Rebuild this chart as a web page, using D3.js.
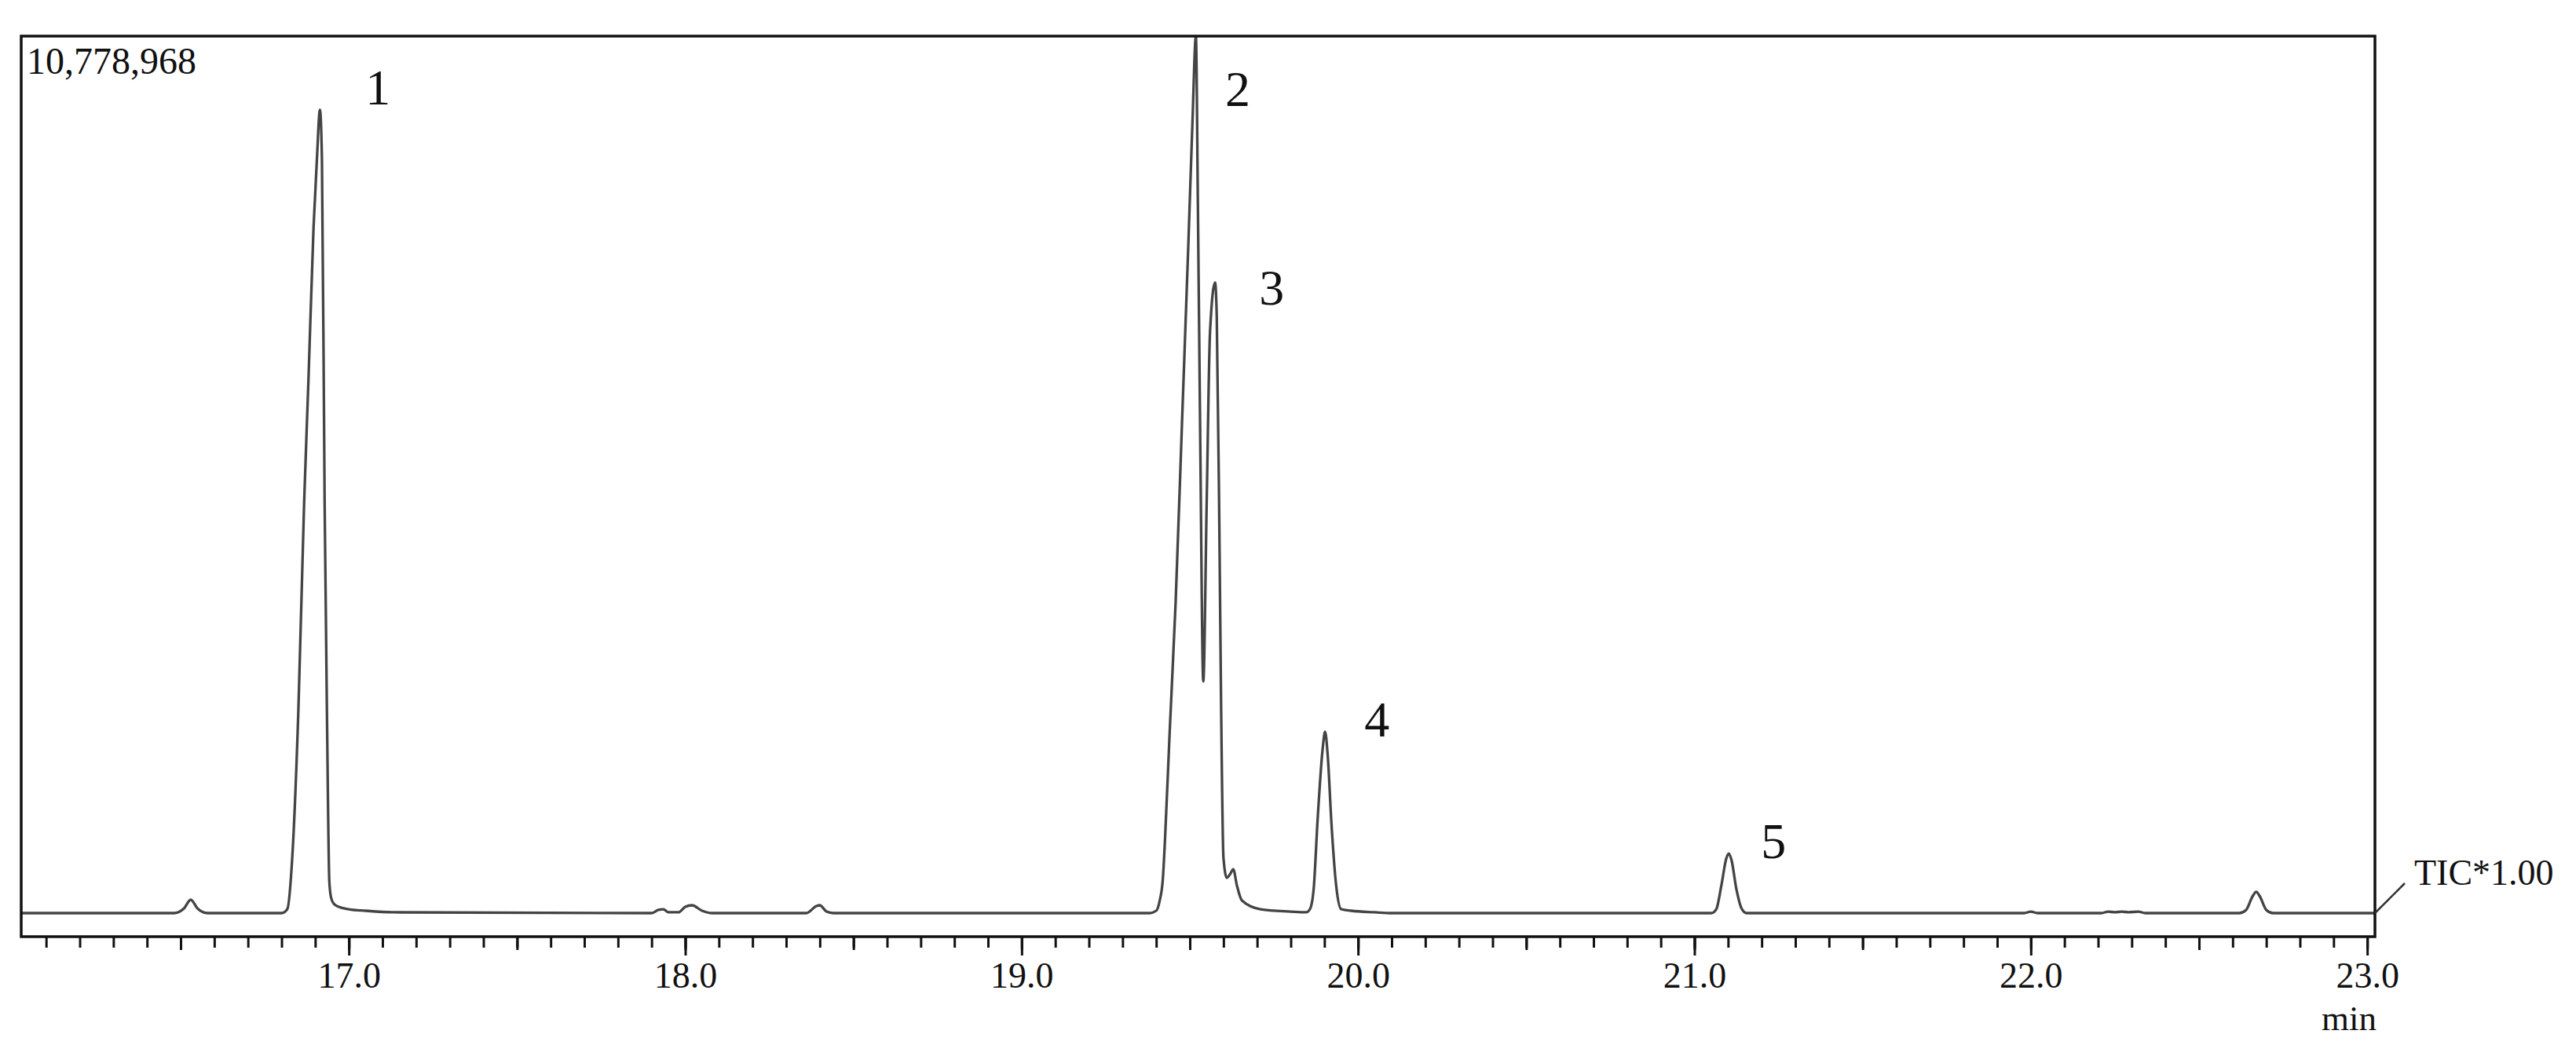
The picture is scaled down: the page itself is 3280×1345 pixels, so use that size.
<!DOCTYPE html>
<html>
<head>
<meta charset="utf-8">
<script src="https://cdn.jsdelivr.net/npm/d3@7"></script>
<style>
body { margin: 0; background: #fff; }
svg text { font-family: "Liberation Serif", "Times New Roman", serif; fill: #111; }
</style>
</head>
<body>
<script>
// retention time (min) and TIC intensity
var rt = [16.026, 16.48, 16.51, 16.53, 16.55, 16.58, 16.80, 16.817, 16.832, 16.85,
    16.867, 16.88, 16.895, 16.905, 16.914, 16.92, 16.928, 16.935, 16.942, 16.947,
    16.955, 16.97, 17.00, 17.05, 17.13, 17.90, 17.92, 17.935, 17.95, 17.98,
    18.00, 18.02, 18.05, 18.08, 18.36, 18.39, 18.40, 18.42, 18.44, 19.38,
    19.40, 19.41, 19.42, 19.426, 19.44, 19.458, 19.477, 19.496, 19.508, 19.518,
    19.524, 19.531, 19.540, 19.550, 19.560, 19.575, 19.580, 19.588, 19.593, 19.600,
    19.610, 19.620, 19.629, 19.640, 19.655, 19.71, 19.80, 19.846, 19.857, 19.868,
    19.88, 19.895, 19.902, 19.91, 19.921, 19.935, 19.95, 19.98, 20.05, 20.10,
    21.05, 21.065, 21.08, 21.095, 21.102, 21.11, 21.125, 21.14, 21.155, 21.98,
    22.00, 22.02, 22.21, 22.23, 22.25, 22.27, 22.29, 22.32, 22.34, 22.62,
    22.64, 22.66, 22.67, 22.68, 22.70, 22.72, 23.023];

var tic = [0, 0, 58000, 164000, 58000, 0, 0, 48000, 700000, 2500000,
    5037000, 6562000, 8424000, 9264000, 9872000, 9264000, 5037000, 2413000, 386000, 193000,
    116000, 77000, 48000, 29000, 10000, 0, 39000, 48000, 10000, 10000,
    77000, 96500, 29000, 0, 0, 87000, 96500, 19000, 0, 0,
    29000, 145000, 434000, 888000, 2220000, 3841000, 6060000, 8270000, 9747000, 10778968,
    8685000, 5790000, 2847000, 5018000, 7141000, 7749000, 7334000, 4632000, 2538000, 676000,
    434000, 480000, 540000, 338000, 154000, 48000, 19000, 10000, 48000, 290000,
    1160000, 2027000, 2229000, 1930000, 1100000, 338000, 48000, 29000, 10000, 0,
    0, 48000, 338000, 676000, 733000, 656000, 290000, 58000, 0, 0,
    19000, 0, 0, 19000, 10000, 19000, 10000, 19000, 0, 0,
    39000, 212000, 261000, 212000, 39000, 0, 0];

var maxTic = 10778968;

var majorTicks = [17, 18, 19, 20, 21, 22, 23];
var tickLabels = ["17.0", "18.0", "19.0", "20.0", "21.0", "22.0", "23.0"];

// peak numbers and where their labels sit (in data units)
var peakNames = ["1", "2", "3", "4", "5"];
var peakLabelRt = [17.049, 19.605, 19.706, 20.019, 21.198];
var peakLabelTic = [9940000, 9920000, 7479000, 2171000, 675500];

var W = 3280, H = 1345;
var plotL = 27, plotR = 3024, plotT = 46, plotB = 1193, baseY = 1163;

var svg = d3.select("body").append("svg")
    .attr("width", W)
    .attr("height", H);

var x = d3.scaleLinear().domain([16.026, 23.023]).range([plotL, plotR]);
var y = d3.scaleLinear().domain([0, maxTic]).range([baseY, plotT]);

// tick marks under the frame: 0.1, 0.5 and 1.0 min
function tickRow(values, size, labels) {
    var ax = d3.axisBottom(x).tickValues(values).tickSize(size).tickPadding(8)
        .tickFormat(labels ? function(d, i) { return labels[i]; } : "");
    var g = svg.append("g")
        .attr("transform", "translate(0," + plotB + ")")
        .call(ax);
    g.select(".domain").remove();
    g.selectAll(".tick line").attr("stroke", "#111").attr("stroke-width", 3);
    g.selectAll(".tick text")
        .attr("font-size", 46)
        .attr("font-family", "Liberation Serif, Times New Roman, serif")
        .attr("fill", "#111");
    return g;
}
tickRow(x.ticks(70), 14);
tickRow(x.ticks(14), 17);
tickRow(majorTicks, 24, tickLabels);

// the trace
svg.append("clipPath").attr("id", "plotclip")
    .append("rect")
    .attr("x", plotL).attr("y", plotT)
    .attr("width", plotR - plotL).attr("height", plotB - plotT);

var line = d3.line()
    .x(function(d, i) { return x(rt[i]); })
    .y(function(d, i) { return y(tic[i]); })
    .curve(d3.curveMonotoneX);

svg.append("path")
    .attr("clip-path", "url(#plotclip)")
    .attr("d", line(rt))
    .attr("fill", "none")
    .attr("stroke", "#444")
    .attr("stroke-width", 3.3)
    .attr("stroke-linejoin", "round");

// frame
svg.append("rect")
    .attr("x", plotL).attr("y", plotT)
    .attr("width", plotR - plotL).attr("height", plotB - plotT)
    .attr("fill", "none")
    .attr("stroke", "#111")
    .attr("stroke-width", 3.5);

// full scale value
svg.append("text")
    .attr("x", plotL + 7)
    .attr("y", plotT + 48)
    .attr("font-size", 48)
    .text(d3.format(",")(maxTic));

// peak numbers
svg.selectAll(".peak")
    .data(peakNames)
    .enter().append("text")
    .attr("class", "peak")
    .attr("x", function(d, i) { return x(peakLabelRt[i]); })
    .attr("y", function(d, i) { return y(peakLabelTic[i]); })
    .attr("font-size", 64)
    .text(function(d) { return d; });

// trace name with leader line
var y0 = y(tic[tic.length - 1]);
svg.append("line")
    .attr("x1", plotR).attr("y1", y0)
    .attr("x2", plotR + 38).attr("y2", y0 - 38)
    .attr("stroke", "#333")
    .attr("stroke-width", 2.5);

svg.append("text")
    .attr("x", plotR + 50)
    .attr("y", y0 - 36)
    .attr("font-size", 46)
    .text("TIC*1.00");

// axis unit
svg.append("text")
    .attr("x", plotR + 2)
    .attr("y", 1312)
    .attr("text-anchor", "end")
    .attr("font-size", 45)
    .text("min");
</script>
</body>
</html>
